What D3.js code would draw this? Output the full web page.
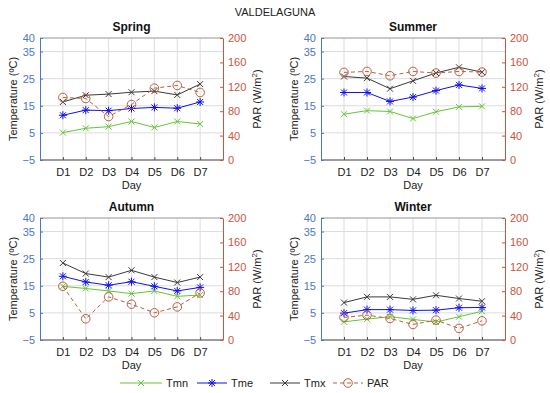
<!DOCTYPE html>
<html>
<head>
<meta charset="utf-8">
<script src="https://cdn.jsdelivr.net/npm/d3@7"></script>
<style>
  body { margin: 0; background: #fff; }
  svg { font-family: "Liberation Sans", Arial, sans-serif; }
</style>
</head>
<body>
<div id="chart"></div>
<script>
var days = ["D1", "D2", "D3", "D4", "D5", "D6", "D7"];
var seasons = ["Spring", "Summer", "Autumn", "Winter"];
var tempTicks = [-5, 5, 15, 25, 35, 40];
var parTicks = [0, 40, 80, 120, 160, 200];

// one row per season, in the order of `seasons`
var tmn = [
    [5.1, 6.7, 7.3, 9.2, 7.0, 9.2, 8.3],
    [11.9, 13.2, 12.9, 10.3, 12.8, 14.6, 14.8],
    [14.8, 14.0, 13.1, 12.1, 13.1, 11.1, 11.6],
    [1.7, 2.7, 3.6, 2.6, 1.6, 3.6, 5.6]
];
var tme = [
    [11.5, 13.4, 13.2, 14.0, 14.4, 14.1, 16.4],
    [19.9, 19.9, 16.6, 18.2, 20.6, 22.7, 21.4],
    [18.5, 16.4, 15.2, 16.5, 14.8, 13.1, 14.4],
    [4.9, 6.2, 6.2, 5.9, 6.0, 6.9, 7.0]
];
var tmx = [
    [16.4, 18.9, 19.3, 20.0, 20.4, 19.0, 23.0],
    [25.8, 25.2, 21.3, 24.2, 27.1, 29.2, 27.4],
    [23.4, 19.5, 18.2, 20.7, 18.2, 16.2, 18.2],
    [8.8, 10.9, 10.9, 10.0, 11.5, 10.3, 9.3]
];
var par = [
    [102.5, 100.8, 71.2, 91.0, 117.8, 122.2, 110.7],
    [143.6, 145.2, 138.1, 145.2, 142.5, 145.2, 144.1],
    [88.0, 34.8, 70.7, 58.7, 44.6, 54.3, 77.2],
    [37.0, 40.8, 35.3, 25.5, 32.6, 19.0, 31.5]
];

var width = 550, height = 393;
var leftColor = "#4a78c4", rightColor = "#c8553d";

var series = [
    { name: "Tmn", values: tmn, color: "#66c43a", marker: "x", dash: null, right: false },
    { name: "Tme", values: tme, color: "#1010f0", marker: "star", dash: null, right: false },
    { name: "Tmx", values: tmx, color: "#3a3a3a", marker: "x", dash: null, right: false },
    { name: "PAR", values: par, color: "#b9603f", marker: "o", dash: "4,3", right: true }
];

var panels = [
    { x: 40, y: 38, w: 183, h: 122 },
    { x: 321, y: 38, w: 184, h: 122 },
    { x: 40, y: 218, w: 183, h: 122 },
    { x: 321, y: 218, w: 184, h: 122 }
];

var svg = d3.select("#chart").append("svg")
    .attr("width", width)
    .attr("height", height);

svg.append("text")
    .attr("x", 275)
    .attr("y", 16)
    .attr("text-anchor", "middle")
    .attr("font-size", "11px")
    .attr("fill", "#222")
    .text("VALDELAGUNA");

function drawMarker(g, type, x, y, color) {
    var s = 3;
    if (type === "o") {
        g.append("circle").attr("cx", x).attr("cy", y).attr("r", 4.3)
            .attr("fill", "none").attr("stroke", color).attr("stroke-width", 1);
        return;
    }
    g.append("path")
        .attr("d", "M" + (x - s) + "," + (y - s) + "L" + (x + s) + "," + (y + s) +
            "M" + (x - s) + "," + (y + s) + "L" + (x + s) + "," + (y - s))
        .attr("stroke", color).attr("stroke-width", 1);
    if (type === "star") {
        g.append("path")
            .attr("d", "M" + x + "," + (y - 4) + "L" + x + "," + (y + 4) +
                "M" + (x - 4) + "," + y + "L" + (x + 4) + "," + y)
            .attr("stroke", color).attr("stroke-width", 1);
    }
}

seasons.forEach(function (season, si) {

    var p = panels[si];
    var g = svg.append("g").attr("transform", "translate(" + p.x + "," + p.y + ")");

    var x = d3.scaleLinear().domain([0, days.length + 1]).range([0, p.w]);
    var yL = d3.scaleLinear().domain([-5, 40]).range([p.h, 0]);
    var yR = d3.scaleLinear().domain([0, 200]).range([p.h, 0]);

    // grid
    g.selectAll("line.gx")
        .data(days)
        .enter().append("line")
        .attr("class", "gx")
        .attr("x1", function (d, i) { return x(i + 1); })
        .attr("x2", function (d, i) { return x(i + 1); })
        .attr("y1", 0)
        .attr("y2", p.h)
        .attr("stroke", "#dcdcdc");

    g.selectAll("line.gy")
        .data(tempTicks)
        .enter().append("line")
        .attr("class", "gy")
        .attr("x1", 0)
        .attr("x2", p.w)
        .attr("y1", yL)
        .attr("y2", yL)
        .attr("stroke", "#dcdcdc");

    // box
    g.append("line").attr("x1", 0).attr("x2", p.w).attr("y1", 0).attr("y2", 0).attr("stroke", "#a6a6a6");
    g.append("line").attr("x1", 0).attr("x2", p.w).attr("y1", p.h).attr("y2", p.h).attr("stroke", "#4d4d4d");

    // axes
    var ax = g.append("g")
        .attr("transform", "translate(0," + p.h + ")")
        .call(d3.axisBottom(x).tickValues(d3.range(1, days.length + 1))
            .tickFormat(function (d) { return days[d - 1]; })
            .tickSizeInner(-3).tickSizeOuter(0).tickPadding(8));
    ax.select(".domain").remove();
    ax.selectAll("line").attr("stroke", "#4d4d4d");
    ax.selectAll("text").attr("font-size", "11px").attr("fill", "#222")
        .attr("font-family", "Liberation Sans, Arial, sans-serif");

    var al = g.append("g")
        .call(d3.axisLeft(yL).tickValues(tempTicks).tickSizeInner(-3).tickSizeOuter(0).tickPadding(5));
    al.select(".domain").attr("stroke", leftColor);
    al.selectAll("line").attr("stroke", leftColor);
    al.selectAll("text").attr("font-size", "11px").attr("fill", leftColor)
        .attr("font-family", "Liberation Sans, Arial, sans-serif")
        .text(function (d) { return d < 0 ? "\u2212" + Math.abs(d) : d; });

    var ar = g.append("g")
        .attr("transform", "translate(" + p.w + ",0)")
        .call(d3.axisRight(yR).tickValues(parTicks).tickSizeInner(-3).tickSizeOuter(0).tickPadding(5));
    ar.select(".domain").attr("stroke", rightColor);
    ar.selectAll("line").attr("stroke", rightColor);
    ar.selectAll("text").attr("font-size", "11px").attr("fill", rightColor)
        .attr("font-family", "Liberation Sans, Arial, sans-serif");

    // labels
    g.append("text")
        .attr("x", p.w / 2)
        .attr("y", -7)
        .attr("text-anchor", "middle")
        .attr("font-size", "12px")
        .attr("font-weight", "bold")
        .attr("fill", "#111")
        .text(season);

    g.append("text")
        .attr("x", p.w / 2)
        .attr("y", p.h + 29)
        .attr("text-anchor", "middle")
        .attr("font-size", "11px")
        .attr("fill", "#222")
        .text("Day");

    g.append("text")
        .attr("transform", "translate(-23," + (p.h / 2) + ") rotate(-90)")
        .attr("text-anchor", "middle")
        .attr("font-size", "11px")
        .attr("fill", "#222")
        .text("Temperature (\u00baC)");

    var rl = g.append("text")
        .attr("transform", "translate(" + (p.w + 38) + "," + (p.h / 2) + ") rotate(-90)")
        .attr("text-anchor", "middle")
        .attr("font-size", "11px")
        .attr("fill", "#222");
    rl.append("tspan").text("PAR (W/m");
    rl.append("tspan").attr("baseline-shift", "super").attr("font-size", "8px").text("2");
    rl.append("tspan").text(")");

    // series
    series.forEach(function (s) {
        var y = s.right ? yR : yL;
        var vals = s.values[si];
        var line = d3.line()
            .x(function (d, i) { return x(i + 1); })
            .y(function (d) { return y(d); });
        g.append("path")
            .datum(vals)
            .attr("d", line)
            .attr("fill", "none")
            .attr("stroke", s.color)
            .attr("stroke-width", 1)
            .attr("stroke-dasharray", s.dash);
        vals.forEach(function (v, i) {
            drawMarker(g, s.marker, x(i + 1), y(v), s.color);
        });
    });
});

// legend
var legendX = [120, 197, 270, 333];
var legend = svg.append("g");
series.forEach(function (s, i) {
    var lx = legendX[i], ly = 383;
    var len = i === 0 ? 42 : 30;
    legend.append("line")
        .attr("x1", lx).attr("x2", lx + len)
        .attr("y1", ly).attr("y2", ly)
        .attr("stroke", s.color)
        .attr("stroke-dasharray", s.dash);
    drawMarker(legend, s.marker, lx + len / 2, ly, s.color);
    legend.append("text")
        .attr("x", lx + len + 4)
        .attr("y", ly + 4)
        .attr("font-size", "11px")
        .attr("fill", "#222")
        .text(s.name);
});
</script>
</body>
</html>
